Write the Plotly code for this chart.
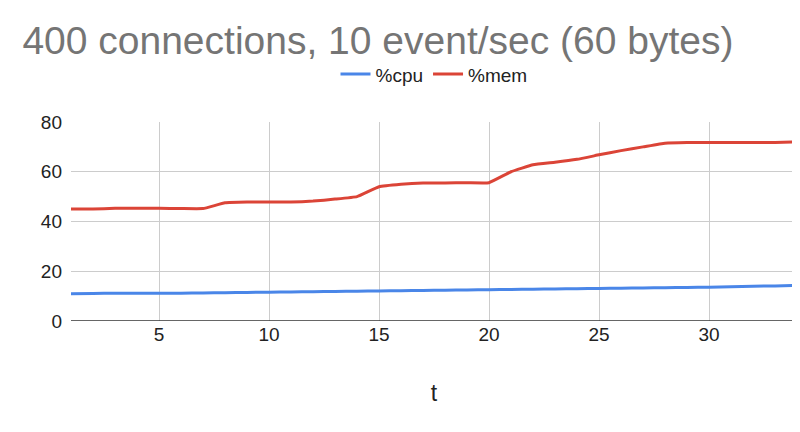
import plotly.graph_objects as go

t = list(range(1, 35))
cpu = [11.0, 11.1, 11.2, 11.2, 11.2, 11.2, 11.3, 11.4, 11.5, 11.6, 11.7, 11.8, 11.9, 12.0, 12.1, 12.2, 12.3, 12.4, 12.5, 12.6, 12.7, 12.8, 12.9, 13.0, 13.1, 13.2, 13.3, 13.4, 13.5, 13.6, 13.8, 14.0, 14.1, 14.3]
mem = [45.0, 45.0, 45.3, 45.3, 45.3, 45.2, 45.2, 47.5, 47.8, 47.8, 47.8, 48.2, 49.0, 50.0, 54.0, 55.0, 55.5, 55.5, 55.6, 55.6, 60.0, 62.8, 63.8, 65.0, 66.8, 68.5, 70.0, 71.5, 71.8, 71.8, 71.8, 71.8, 71.8, 72.0]

fig = go.Figure()
fig.add_trace(go.Scatter(x=t, y=cpu, name="%cpu", mode="lines",
                         line=dict(color="#4a86e8", width=3, shape="spline", smoothing=0.3)))
fig.add_trace(go.Scatter(x=t, y=mem, name="%mem", mode="lines",
                         line=dict(color="#db4437", width=3, shape="spline", smoothing=0.3)))
fig.update_layout(
    width=800, height=432, plot_bgcolor="white", paper_bgcolor="white",
    font=dict(family="Arial, Liberation Sans", size=19, color="#222"),
    title=dict(text="400 connections, 10 event/sec (60 bytes)", x=0.018, y=0.925,
               xanchor="left", yanchor="middle", font=dict(size=39, color="#757575")),
    legend=dict(orientation="h", x=0.5, xanchor="center", y=1.24, yanchor="middle",
                font=dict(size=19, color="#222")),
    margin=dict(l=63, r=11, t=114, b=119),
    xaxis=dict(range=[1, 34], tickvals=[5, 10, 15, 20, 25, 30], showgrid=True,
               gridcolor="#cccccc", zeroline=False, showline=False,
               title=dict(text="t", standoff=40), ticks=""),
    yaxis=dict(range=[0, 80], tickvals=[0, 20, 40, 60, 80], showgrid=True,
               gridcolor="#cccccc", zeroline=False, showline=False, ticks="",
               ticklabelstandoff=8),
    showlegend=True,
)
fig.add_shape(type="line", xref="paper", yref="y", x0=0, x1=1, y0=0, y1=0,
              line=dict(color="#333", width=1.5))
fig.write_html("out.html")
